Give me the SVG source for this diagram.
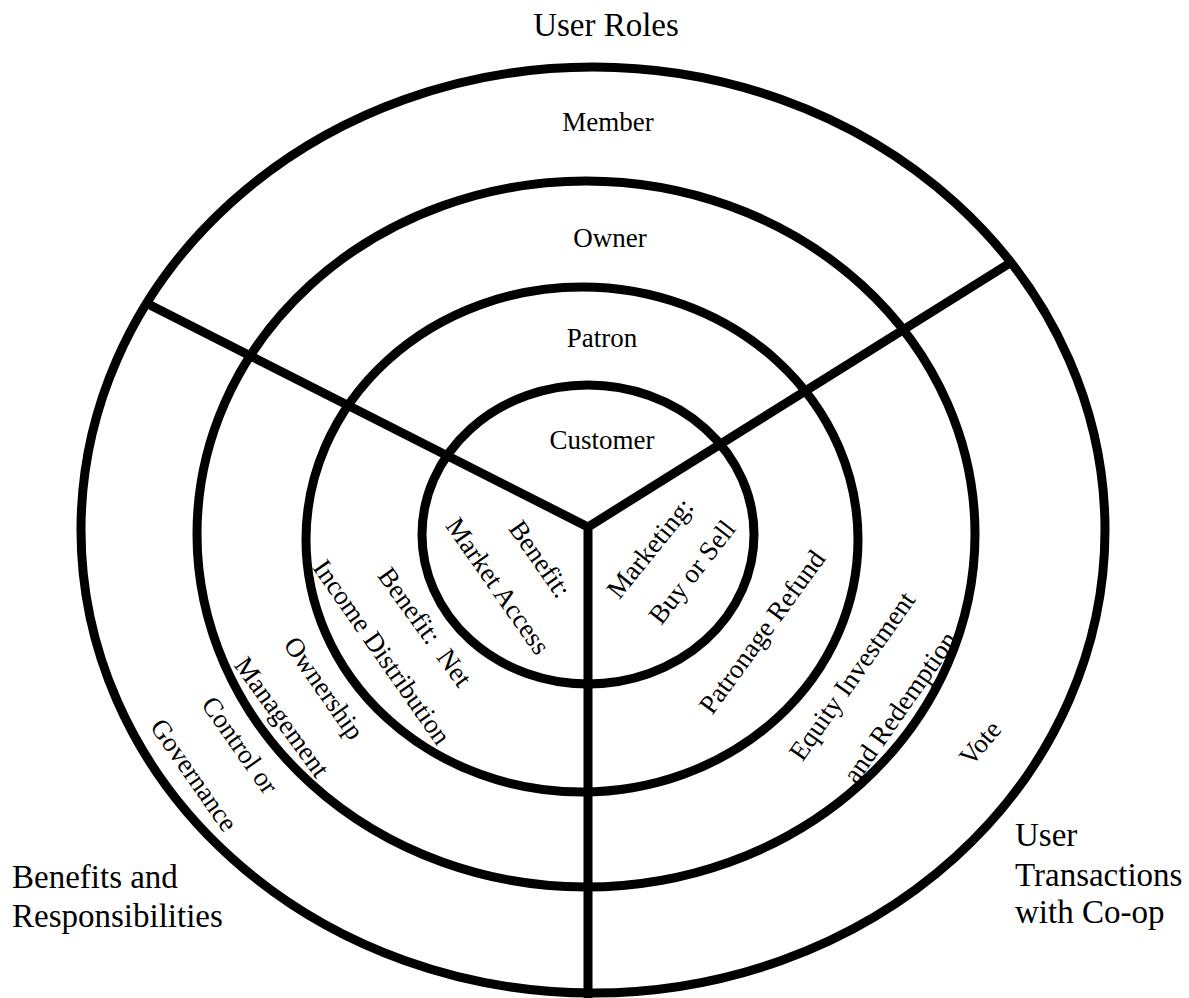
<svg xmlns="http://www.w3.org/2000/svg" width="1189" height="998" viewBox="0 0 1189 998">
<style>
.ring{fill:none;stroke:#000;stroke-width:9}
.conn{fill:none;stroke:#000;stroke-width:9;stroke-linejoin:miter}
.t{font-family:"Liberation Serif","Times New Roman",serif;font-size:27px;fill:#000}
.big{font-family:"Liberation Serif","Times New Roman",serif;font-size:33px;fill:#000}
.m{text-anchor:middle}
</style>
<rect width="1189" height="998" fill="#fff"/>
<g id="ring-member"><ellipse class="ring" cx="593" cy="530" rx="512" ry="463"/></g>
<g id="ring-owner"><ellipse class="ring" cx="586" cy="534" rx="389" ry="353"/></g>
<g id="ring-patron"><ellipse class="ring" cx="582" cy="539.5" rx="276" ry="252.5"/></g>
<g id="ring-customer"><ellipse class="ring" cx="588" cy="534.5" rx="166" ry="149.5"/></g>
<g id="connectors"><path class="conn" d="M150,305 L588,527 L1010,263 M588,527 L588,998"/></g>
<g id="title-user-roles"><text class="big m" x="606" y="36">User Roles</text></g>
<g id="label-member"><text class="t m" x="608" y="131">Member</text></g>
<g id="label-owner"><text class="t m" x="610" y="247">Owner</text></g>
<g id="label-patron"><text class="t m" x="602" y="347">Patron</text></g>
<g id="label-customer"><text class="t m" x="602" y="449">Customer</text></g>
<g id="label-benefits-responsibilities"><text class="big" x="12" y="888">Benefits and</text><text class="big" x="12" y="927">Responsibilities</text></g>
<g id="label-user-transactions"><text class="big" x="1015" y="846">User</text><text class="big" x="1015" y="886">Transactions</text><text class="big" x="1015" y="923">with Co-op</text></g>
<g id="benefit-market-access">
<text class="t m" transform="translate(540,559) rotate(55)" y="9">Benefit:</text>
<text class="t m" transform="translate(498,586) rotate(55)" y="9">Market Access</text>
</g>
<g id="marketing-buy-sell">
<text class="t m" transform="translate(650,548) rotate(-51)" y="9">Marketing:</text>
<text class="t m" transform="translate(692,572) rotate(-52)" y="9">Buy or Sell</text>
</g>
<g id="benefit-net-income">
<text class="t m" transform="translate(425,627) rotate(54)" y="9">Benefit:&#160; Net</text>
<text class="t m" transform="translate(382,652) rotate(55)" y="9">Income Distribution</text>
</g>
<g id="patronage-refund"><text class="t m" transform="translate(762,632) rotate(-54)" y="9">Patronage Refund</text></g>
<g id="ownership-management">
<text class="t m" transform="translate(324,688) rotate(55)" y="9">Ownership</text>
<text class="t m" transform="translate(282,717) rotate(54)" y="9">Management</text>
</g>
<g id="equity-redemption">
<text class="t m" transform="translate(852,676) rotate(-55)" y="9">Equity Investment</text>
<text class="t m" transform="translate(900,707) rotate(-55)" y="9">and Redemption</text>
</g>
<g id="control-governance">
<text class="t m" transform="translate(240,745) rotate(55)" y="9">Control or</text>
<text class="t m" transform="translate(194,775) rotate(55)" y="9">Governance</text>
</g>
<g id="vote"><text class="t m" transform="translate(980,743) rotate(-50)" y="9">Vote</text></g>
</svg>
